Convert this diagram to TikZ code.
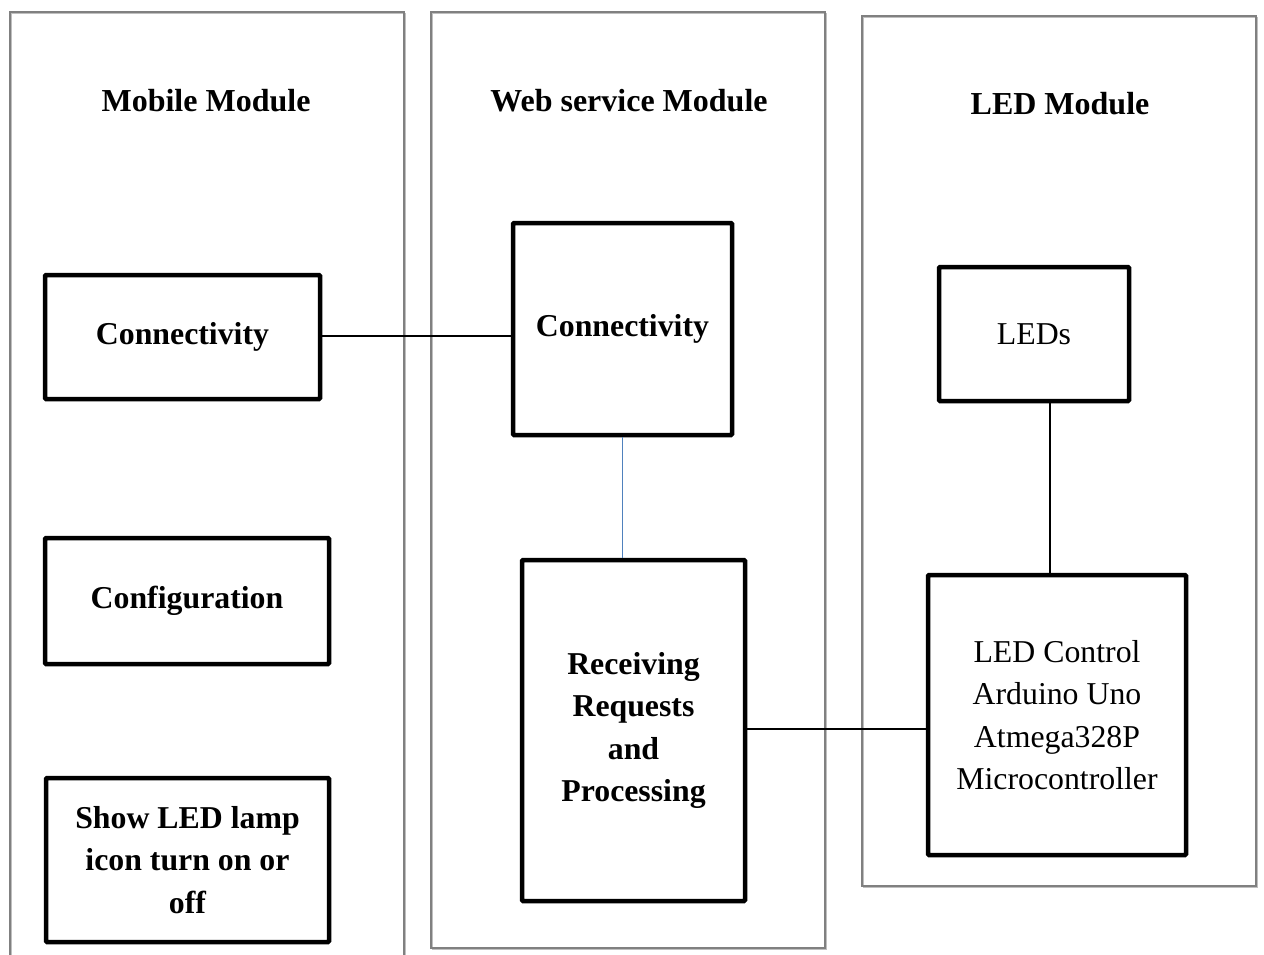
\documentclass[tikz,border=0pt]{standalone}
\usepackage{fontspec}
\setmainfont{Liberation Serif}
\begin{document}
\begin{tikzpicture}[x=1pt,y=-1pt,
  panel/.style={draw=black!50,line width=1.6pt},
  panelshadow/.style={draw=black!25,line width=1.6pt},
  blk/.style={draw=black,line width=4.5pt,rounded corners=1pt,inner sep=0pt,align=center,font=\fontsize{31.8}{42.5}\selectfont},
  bblk/.style={blk,font=\fontsize{31.8}{42.5}\selectfont\bfseries},
  title/.style={font=\fontsize{32}{38}\selectfont\bfseries,inner sep=0pt},
  link/.style={draw=black,line width=1.5pt},
  bluelink/.style={draw={rgb,255:red,79;green,129;blue,189},line width=1.5pt}
]
\useasboundingbox (0,0) rectangle (1264,954);
% panels (shadow then line)
\draw[panelshadow] (11.5,970) -- (11.5,13.5) -- (405.5,13.5) -- (405.5,970);
\draw[panel] (10,970) -- (10,12) -- (404,12) -- (404,970);
\draw[panelshadow] (432.5,13.5) rectangle (826.5,949.5);
\draw[panel] (431,12) rectangle (825,948);
\draw[panelshadow] (863.5,17.5) rectangle (1257.5,887.5);
\draw[panel] (862,16) rectangle (1256,886);
% titles
\node[title] (t1) at (206,101) {Mobile Module};
\node[title] (t2) at (629,101) {Web service Module};
\node[title] (t3) at (1060,104) {LED Module};
% blocks
\node[bblk,minimum width=275,minimum height=124] (mc) at (182.5,337) {Connectivity};
\node[bblk,minimum width=284,minimum height=126] (cf) at (187,601) {Configuration};
\node[bblk,minimum width=283,minimum height=164] (sl) at (187.5,860) {Show LED lamp\\icon turn on or\\off};
\node[bblk,minimum width=219,minimum height=212] (wc) at (622.5,329) {Connectivity};
\node[bblk,minimum width=223,minimum height=341] (rp) at (633.5,730.5) {Receiving\\Requests\\and\\Processing};
\node[blk,minimum width=190,minimum height=134] (leds) at (1034,334) {LEDs};
\node[blk,minimum width=258,minimum height=280] (lc) at (1057,715) {LED Control\\Arduino Uno\\Atmega328P\\Microcontroller};
% connectors
\coordinate (ledx) at (1050,0);
\draw[link] (mc.east |- 0,336) -- (wc.west |- 0,336);
\draw[bluelink] (wc.south) -- (wc.south |- rp.north);
\draw[link] (ledx |- leds.south) -- (ledx |- lc.north);
\draw[link] (rp.east |- 0,729) -- (lc.west |- 0,729);
\end{tikzpicture}
\end{document}
